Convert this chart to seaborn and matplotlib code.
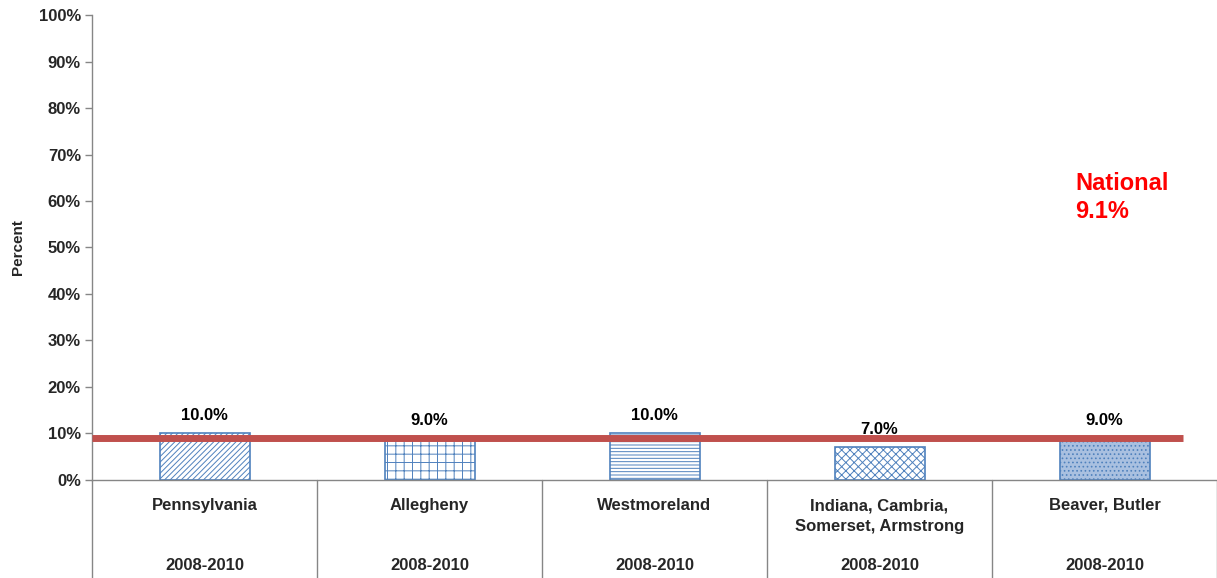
import matplotlib
matplotlib.use("Agg")
import matplotlib.pyplot as plt
import matplotlib.transforms as mtransforms
import seaborn as sns
import pandas as pd

# ================================
# DATA
# ================================
regions = ["Pennsylvania", "Allegheny", "Westmoreland",
           "Indiana, Cambria,\nSomerset, Armstrong", "Beaver, Butler"]
periods = ["2008-2010"] * 5
values = [10.0, 9.0, 10.0, 7.0, 9.0]
national = 9.1
yticks = [0, 10, 20, 30, 40, 50, 60, 70, 80, 90, 100]

df = pd.DataFrame({"region": regions, "value": values})

# ================================
# STYLE
# ================================
sns.set_style("white")
plt.rcParams["font.family"] = ["Liberation Sans", "DejaVu Sans"]
plt.rcParams["hatch.color"] = "#4F81BD"
plt.rcParams["hatch.linewidth"] = 0.7

blue = "#4F81BD"
grey = "#868686"
red = "#C0504D"

fig = plt.figure(figsize=(12.17, 5.78), dpi=100)
ax = fig.add_axes([0.0756, 0.1696, 0.9244, 0.8044])

sns.barplot(data=df, x="region", y="value", color="white", width=0.4,
            edgecolor=blue, linewidth=1.2, ax=ax)

hatches = ["//////", "++", "-----", "xxxx", "...."]
faces = ["white", "white", "white", "white", "#A9C0E0"]
for patch, h, fc in zip(ax.patches, hatches, faces):
    patch.set_hatch(h)
    patch.set_facecolor(fc)

# value labels
for i, v in enumerate(values):
    ax.text(i, v + 2.2, f"{v:.1f}%", ha="center", va="bottom",
            fontsize=12, fontweight="bold", color="black")

# national line
ax.plot([-0.5, 4.35], [national, national], color=red, lw=5, zorder=5,
        solid_capstyle="butt")
ax.text(3.87, 60.8, f"National\n{national}%", color="#FF0000",
        fontsize=17, fontweight="bold", ha="left", va="center",
        linespacing=1.25)

ax.set_xlim(-0.5, len(regions) - 0.5)
ax.set_ylim(0, 100)
ax.set_yticks(yticks)
ax.set_yticklabels([f"{t}%" for t in yticks], fontsize=12, fontweight="bold")
ax.tick_params(axis="y", direction="out", length=5, color=grey, width=1, pad=3, left=True)
ax.set_xticks([])
ax.set_xlabel("")
ax.set_ylabel("Percent", fontsize=11, fontweight="bold", labelpad=10)

for s in ["top", "right"]:
    ax.spines[s].set_visible(False)
for s in ["left", "bottom"]:
    ax.spines[s].set_color(grey)
    ax.spines[s].set_linewidth(1)

# category separators and labels below the axis
trans = mtransforms.blended_transform_factory(ax.transData, ax.transAxes)
for b in range(len(regions) + 1):
    ax.plot([b - 0.5, b - 0.5], [0, -0.215], color=grey, lw=1,
            transform=trans, clip_on=False)
for i, (r, p) in enumerate(zip(regions, periods)):
    ax.text(i, -0.054 if "\n" not in r else -0.078, r, transform=trans,
            ha="center", va="center", fontsize=12, fontweight="bold",
            linespacing=1.45)
    ax.text(i, -0.185, p, transform=trans, ha="center", va="center",
            fontsize=12, fontweight="bold")

plt.savefig("out.png", dpi=100)
